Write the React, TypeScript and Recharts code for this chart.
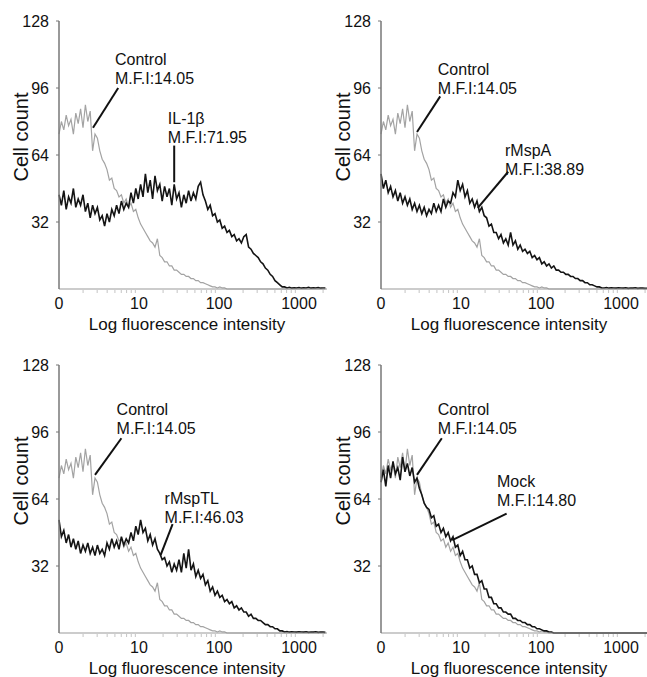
import React from 'react';
import { LineChart, Line, XAxis, YAxis, ReferenceLine, ReferenceDot } from 'recharts';

// histogram bins: each bin is 0.03 log decades wide
const STEP = 0.03;

// unstimulated control, same in all four panels (M.F.I 14.05)
const control = [
  74, 80, 76, 83, 78, 81, 74, 84, 79, 86,
  77, 88, 80, 85, 66, 74, 72, 66, 62, 60,
  57, 52, 53, 48, 47, 44, 45, 41, 43, 39,
  41, 37, 38, 34, 31, 29, 27, 25, 23, 22,
  20, 24, 16, 15, 13, 13, 11, 11, 9, 9,
  8, 7, 7, 6, 6, 5, 5, 4, 4, 3,
  3, 2.5, 2, 1.5, 1, 1, 0.5, 1, 0.5, 0.5,
  0, 0, 0, 0, 0, 0, 0, 0, 0, 0,
  0, 0, 0, 0, 0, 0, 0, 0, 0, 0,
  0, 0, 0, 0, 0, 0, 0, 0, 0, 0,
  0, 0, 0, 0, 0, 0, 0, 0, 0, 0,
  0, 0,
];

const il1b = [
  45, 40, 47, 38, 44, 41, 48, 39, 43, 40,
  45, 37, 41, 34, 40, 36, 39, 33, 35, 30,
  36, 32, 38, 35, 40, 36, 42, 38, 41, 39,
  46, 41, 48, 43, 50, 44, 55, 46, 52, 43,
  54, 47, 50, 42, 49, 44, 48, 40, 50, 43,
  46, 39, 45, 41, 47, 42, 46, 43, 49, 51,
  45, 42, 38, 40, 35, 36, 32, 33, 29, 30,
  27, 28, 25, 26, 23, 24, 22, 25, 26, 20,
  19, 17, 16, 15, 13, 12, 10, 9, 7, 6,
  4, 3, 2, 1, 1, 0.5, 0.8, 0.4, 0.6, 0.5,
  0.7, 0.4, 0.6, 0.5, 0.8, 0.4, 0.6, 0.5, 0.7, 0.4,
  0.5, 0.5,
];

const rMspA = [
  55, 48, 52, 46, 49, 44, 47, 42, 46, 41,
  44, 40, 43, 38, 41, 37, 40, 36, 39, 35,
  38, 36, 41, 37, 40, 37, 43, 39, 42, 41,
  46, 44, 52, 47, 50, 44, 47, 41, 43, 39,
  42, 37, 39, 35, 34, 30, 31, 27, 27, 24,
  26, 22, 24, 21, 27, 21, 23, 19, 21, 18,
  19, 17, 18, 15, 16, 14, 15, 12, 13, 11,
  12, 10, 11, 9, 9, 8, 8, 7, 7, 6,
  6, 5, 5, 4, 4, 3, 3, 2, 2, 1.5,
  1, 1, 0.5, 0.5, 0.7, 0.4, 0.6, 0.5, 0.4, 0.6,
  0.5, 0.4, 0.6, 0.3, 0.5, 0.4, 0.6, 0.3, 0.5, 0.4,
  0.3, 0.4,
];

const rMspTL = [
  54, 46, 49, 43, 47, 41, 45, 40, 44, 38,
  42, 39, 43, 38, 41, 37, 42, 38, 40, 37,
  43, 40, 45, 41, 44, 40, 46, 42, 45, 43,
  48, 44, 51, 47, 54, 48, 50, 44, 47, 42,
  45, 40, 38, 35, 36, 32, 34, 29, 33, 30,
  35, 29, 38, 31, 40, 30, 33, 27, 30, 26,
  28, 23, 25, 20, 22, 18, 20, 17, 18, 15,
  16, 14, 15, 12, 13, 11, 12, 10, 10, 8,
  9, 7, 7, 6, 6, 5, 4, 4, 3, 3,
  2, 2, 1, 1, 0.5, 0.7, 0.4, 0.6, 0.5, 0.4,
  0.6, 0.5, 0.4, 0.6, 0.3, 0.5, 0.4, 0.6, 0.3, 0.5,
  0.4, 0.3,
];

const mock = [
  72, 78, 70, 80, 74, 82, 76, 79, 73, 84,
  77, 81, 75, 79, 72, 74, 69, 66, 62, 60,
  59, 55, 56, 51, 52, 48, 50, 46, 48, 44,
  46, 41, 42, 37, 39, 35, 35, 31, 32, 28,
  28, 24, 25, 21, 21, 17, 17, 14, 14, 12,
  12, 10, 10, 9, 9, 7, 7, 6, 6, 5,
  5, 4, 4, 3, 3, 2, 2, 1.5, 1, 1,
  0.5, 0.5, 0, 0, 0, 0, 0, 0, 0, 0,
  0, 0, 0, 0, 0, 0, 0, 0, 0, 0,
  0, 0, 0, 0, 0, 0, 0, 0, 0, 0,
  0, 0, 0, 0, 0, 0, 0, 0, 0, 0,
  0, 0,
];

const decadeTicks = [0, 1, 2, 3];
const decadeLabels = ['0', '10', '100', '1000'];
const minorMultipliers = [2, 3, 4, 5, 6, 7, 8, 9];
const countTicks = [32, 64, 96, 128];

const FONT = '"Liberation Sans", Arial, Helvetica, sans-serif';
const X_MAX = 3.35;

const minorTicks = decadeTicks
  .flatMap((d) => minorMultipliers.map((m) => d + Math.log10(m)))
  .filter((v) => v < X_MAX);

// annotation: two text lines + pointer, all in (log decade, count) coords
const panels = [
  {
    test: il1b, left: 0, top: 0,
    notes: [
      { lines: ['Control', 'M.F.I:14.05'], x: 0.7, y: 107, from: [0.74, 96], to: [0.425, 77] },
      { lines: ['IL-1β', 'M.F.I:71.95'], x: 1.36, y: 79, from: [1.44, 68.5], to: [1.44, 51] },
    ],
  },
  {
    test: rMspA, left: 322, top: 0,
    notes: [
      { lines: ['Control', 'M.F.I:14.05'], x: 0.71, y: 102, from: [0.74, 92], to: [0.45, 75] },
      { lines: ['rMspA', 'M.F.I:38.89'], x: 1.55, y: 63.5, from: [1.59, 56], to: [1.21, 38.7] },
    ],
  },
  {
    test: rMspTL, left: 0, top: 344,
    notes: [
      { lines: ['Control', 'M.F.I:14.05'], x: 0.72, y: 104, from: [0.78, 93], to: [0.45, 75.5] },
      { lines: ['rMspTL', 'M.F.I:46.03'], x: 1.32, y: 61.6, from: [1.42, 52], to: [1.27, 37.2] },
    ],
  },
  {
    test: mock, left: 322, top: 344,
    notes: [
      { lines: ['Control', 'M.F.I:14.05'], x: 0.71, y: 104, from: [0.76, 93], to: [0.45, 75.5] },
      { lines: ['Mock', 'M.F.I:14.80'], x: 1.45, y: 69.7, from: [1.57, 57], to: [0.89, 44.4] },
    ],
  },
];

const XTick = ({ x, y, payload }: any) => {
  const i = decadeTicks.indexOf(payload.value);
  if (i < 0) {
    return <line x1={x} x2={x} y1={y + 1} y2={y + 4} stroke="#c4c4c4" strokeWidth={1} />;
  }
  return (
    <text x={x} y={y + 20} textAnchor="middle" fontSize={16} fontFamily={FONT} fill="#111">
      {decadeLabels[i]}
    </text>
  );
};

const XTitle = ({ viewBox }: any) => (
  <text
    x={viewBox.x + viewBox.width / 2 - 6}
    y={viewBox.y + 41}
    textAnchor="middle"
    fontSize={17}
    fontFamily={FONT}
    fill="#111"
  >
    Log fluorescence intensity
  </text>
);

const YTitle = ({ viewBox }: any) => {
  const x = viewBox.x + 28;
  const y = viewBox.y + 116;
  return (
    <text
      x={x}
      y={y}
      transform={`rotate(-90 ${x} ${y})`}
      textAnchor="middle"
      fontSize={20}
      fontFamily={FONT}
      fill="#111"
    >
      Cell count
    </text>
  );
};

function Histogram({ test, notes }: { test: number[]; notes: any[] }) {
  const data = control.map((c, i) => ({ pos: i * STEP, control: c, test: test[i] }));
  return (
    <LineChart width={328} height={333} data={data} margin={{ top: 21, right: 1, bottom: 0, left: 0 }}>
      <XAxis
        dataKey="pos"
        type="number"
        domain={[0, X_MAX]}
        ticks={[...decadeTicks, ...minorTicks]}
        interval={0}
        tick={<XTick />}
        tickLine={false}
        tickSize={0}
        tickMargin={0}
        height={44}
        axisLine={{ stroke: '#9a9a9a', strokeWidth: 1.2 }}
        label={{ content: XTitle }}
      />
      <YAxis
        type="number"
        domain={[0, 128]}
        ticks={countTicks}
        interval={0}
        width={59}
        tickSize={3}
        tickMargin={7}
        tick={{ fill: '#111', fontSize: 16, fontFamily: FONT }}
        tickLine={{ stroke: '#777' }}
        axisLine={{ stroke: '#777', strokeWidth: 1.5 }}
        label={{ content: YTitle }}
      />
      <Line
        dataKey="control"
        type="linear"
        stroke="#a3a3a3"
        strokeWidth={1.2}
        dot={false}
        isAnimationActive={false}
      />
      <Line
        dataKey="test"
        type="linear"
        stroke="#141414"
        strokeWidth={1.6}
        dot={false}
        isAnimationActive={false}
      />
      {notes.map((n, k) => (
        <ReferenceLine
          key={`p${k}`}
          segment={[
            { x: n.from[0], y: n.from[1] },
            { x: n.to[0], y: n.to[1] },
          ]}
          stroke="#111"
          strokeWidth={2}
          ifOverflow="visible"
        />
      ))}
      {notes.map((n, k) => (
        <ReferenceDot
          key={`t${k}`}
          x={n.x}
          y={n.y}
          r={0}
          ifOverflow="visible"
          shape={(p: any) => (
            <text x={p.cx} y={p.cy} fontSize={16} fontFamily={FONT} fill="#111">
              <tspan x={p.cx} dy={0}>{n.lines[0]}</tspan>
              <tspan x={p.cx} dy={19}>{n.lines[1]}</tspan>
            </text>
          )}
        />
      ))}
    </LineChart>
  );
}

export default function App() {
  return (
    <div
      style={{
        position: 'absolute',
        left: 0,
        top: 0,
        width: 647,
        height: 677,
        overflow: 'hidden',
        background: '#fff',
      }}
    >
      {panels.map((p, i) => (
        <div key={i} style={{ position: 'absolute', left: p.left, top: p.top }}>
          <Histogram test={p.test} notes={p.notes} />
        </div>
      ))}
    </div>
  );
}
